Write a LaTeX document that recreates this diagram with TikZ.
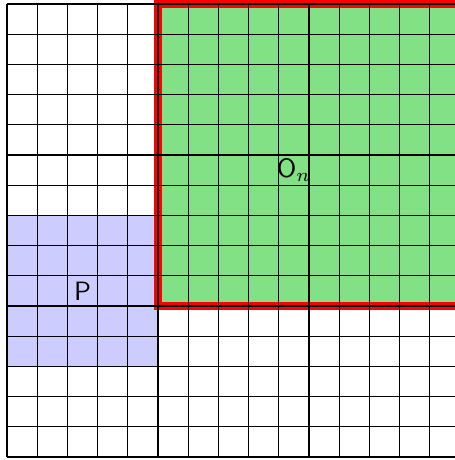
\documentclass[tikz,border=0pt]{standalone}
\usepackage{amsmath,amssymb}
\usepackage{xcolor}
\usepackage{tikz}
\definecolor{regiongreen}{RGB}{130,224,133}
\definecolor{regionblue}{RGB}{204,204,255}

\begin{document}
\begin{tikzpicture}[x=0.4cm,y=0.4cm]
			\useasboundingbox (-0.232,-0.099) rectangle (14.834,15.132);
			
			\fill[regiongreen] (5,5) rectangle (15,15);
			\fill[regionblue] (0,3) rectangle (5,8);
			
			\draw[red,line width=3pt] (5,5) rectangle (15,15);
			
			\draw[thin,step=1] (0,0) grid (15,15);
			
			\node[font=\sffamily] (p) at (2.5,5.5) {P};
			\node[font=\sffamily] (on) at (9.5,9.5) {O$_n$};
			
		\end{tikzpicture}
\end{document}
